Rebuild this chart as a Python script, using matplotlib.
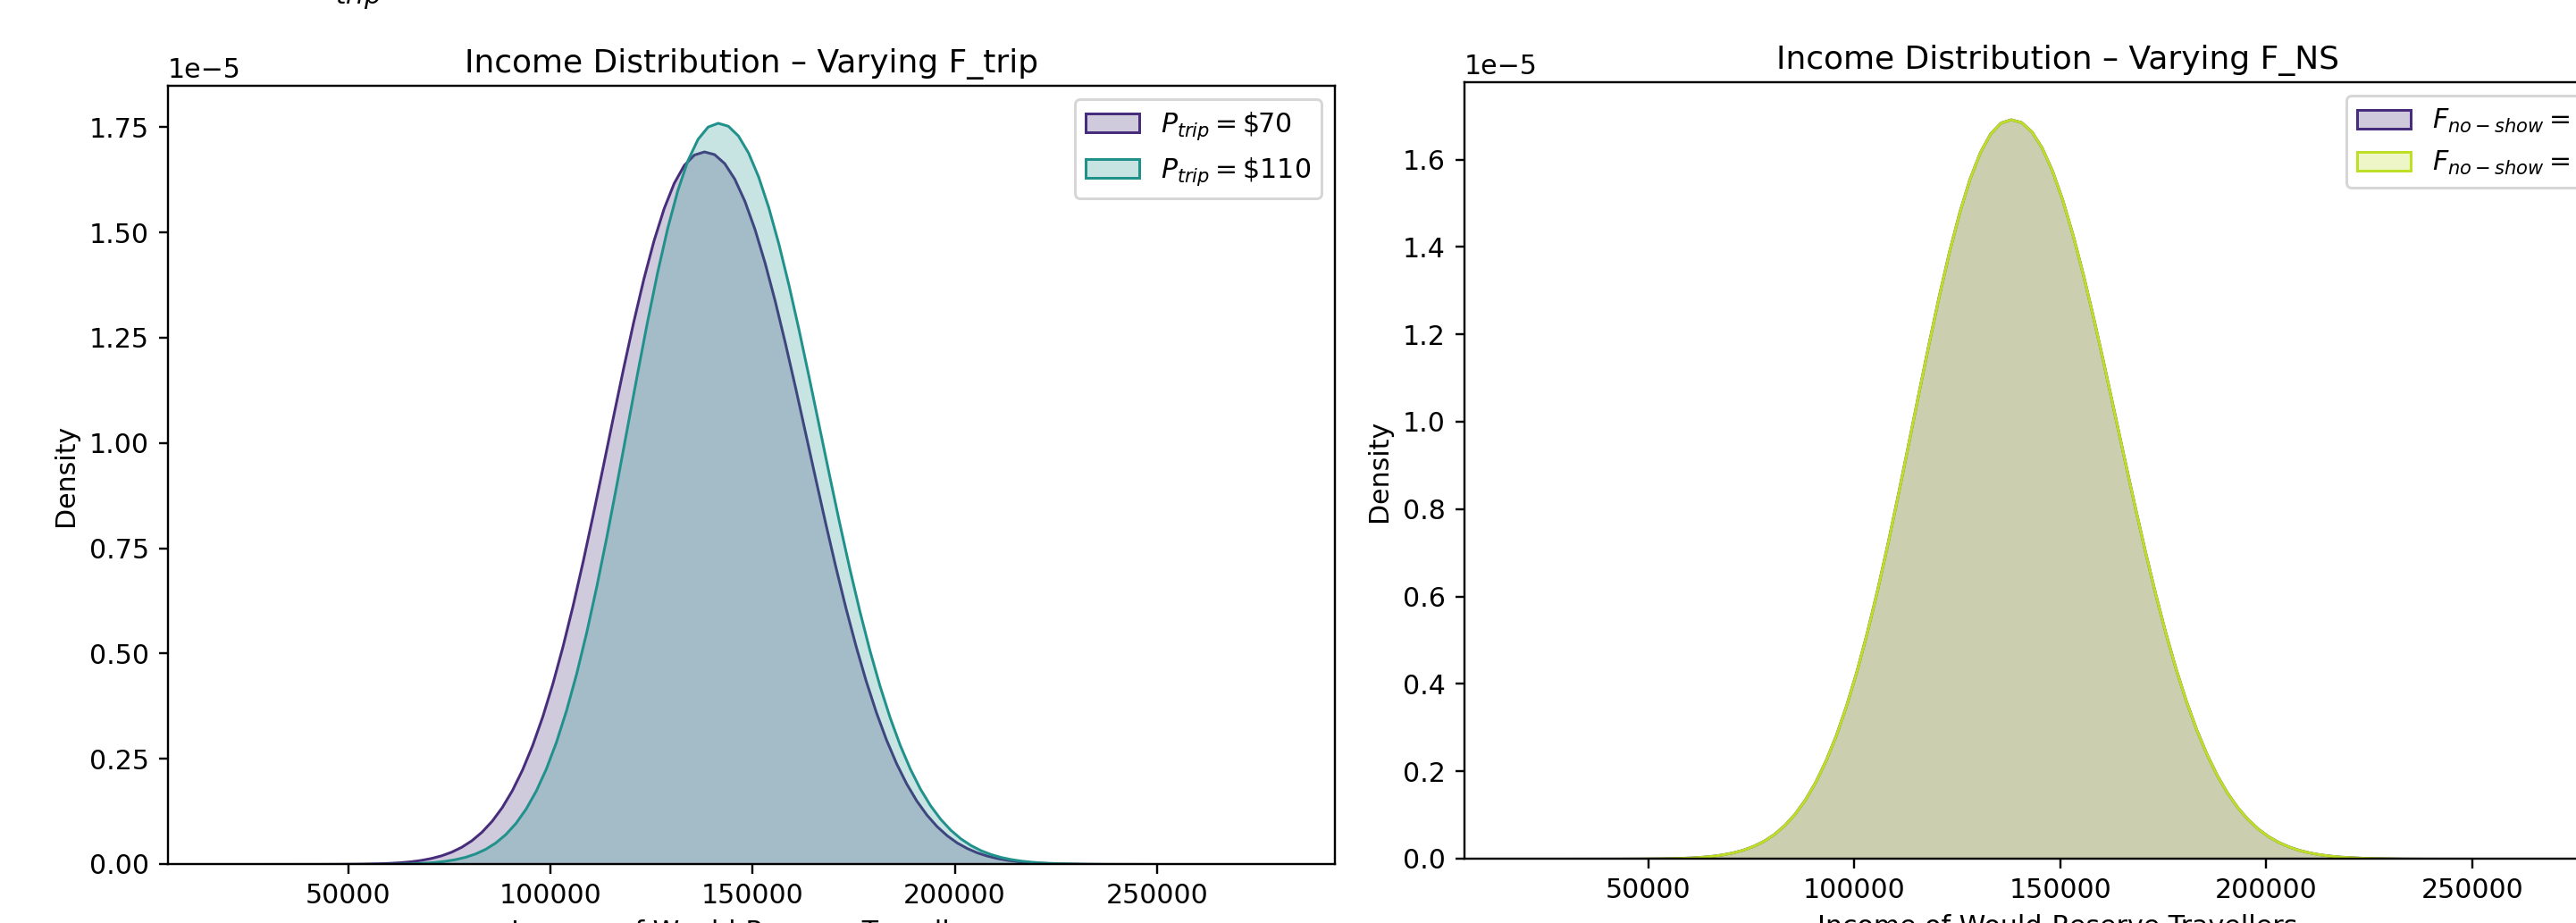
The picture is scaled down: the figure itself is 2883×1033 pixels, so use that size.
import numpy as np
import matplotlib
matplotlib.use("Agg")
import matplotlib.pyplot as plt
from matplotlib.patches import Patch

# ---------------- data (density in units of 1e-5) ----------------
income_70 = [18500, 30000, 43000, 48000, 53000,
             58000, 60500, 63000, 65500, 68000, 70500, 73000, 75500, 78000, 80500,
             83000, 85500, 88000, 90500, 93000, 95500, 98000, 100500, 103000, 105500,
             108000, 110500, 113000, 115500, 118000, 120500, 123000, 125500, 128000, 130500,
             133000, 135500, 138000,
             140500, 143000, 145500, 148000, 150500, 153000, 155500, 158000, 160500, 163000,
             165500, 168000, 170500, 173000, 175500, 178000, 180500, 183000, 185500, 188000,
             190500, 193000, 195500, 198000, 200500, 203000, 205500, 208000, 210500, 213000,
             215500, 218000, 223000, 228000, 233000, 238000, 250000, 260000, 270000, 280000]

dens_ptrip_70 = [0.0, 0.0, 0.0001, 0.0003, 0.0007,
                 0.0018, 0.0028, 0.0043, 0.0065, 0.0097, 0.0143, 0.0206, 0.0293, 0.0410, 0.0565,
                 0.0768, 0.1027, 0.1352, 0.1754, 0.2242, 0.2823, 0.3504, 0.4286, 0.5167, 0.6139,
                 0.7192, 0.8307, 0.9461, 1.0629, 1.1778, 1.2879, 1.3897, 1.4802, 1.5567, 1.6171,
                 1.6599, 1.6846, 1.6920,
                 1.6856, 1.6643, 1.6272, 1.5746, 1.5076, 1.4277, 1.3371, 1.2379, 1.1331, 1.0247,
                 0.9159, 0.8088, 0.7056, 0.6080, 0.5176, 0.4350, 0.3611, 0.2959, 0.2395, 0.1913,
                 0.1508, 0.1174, 0.0902, 0.0684, 0.0511, 0.0378, 0.0275, 0.0198, 0.0140, 0.0098,
                 0.0068, 0.0046, 0.0021, 0.0009, 0.0003, 0.0001, 0.0, 0.0, 0.0, 0.0]

income_110 = [18500, 30000, 45000, 56400,
              61400, 63900, 66400, 68900, 71400, 73900, 76400, 78900, 81400, 83900,
              86400, 88900, 91400, 93900, 96400, 98900, 101400, 103900, 106400, 108900,
              111400, 113900, 116400, 118900, 121400, 123900, 126400, 128900, 131400, 133900,
              136400, 138900, 141400,
              143900, 146400, 148900, 151400, 153900, 156400, 158900, 161400, 163900, 166400,
              168900, 171400, 173900, 176400, 178900, 181400, 183900, 186400, 188900, 191400,
              193900, 196400, 198900, 201400, 203900, 206400, 208900, 211400, 213900, 216400,
              218900, 221400, 226400, 231400, 236400, 241400, 250000, 260000, 270000, 280000]

dens_ptrip_110 = [0.0, 0.0, 0.0, 0.0002,
                  0.0007, 0.0012, 0.0019, 0.0030, 0.0048, 0.0075, 0.0114, 0.0170, 0.0250, 0.0360,
                  0.0511, 0.0712, 0.0977, 0.1316, 0.1742, 0.2268, 0.2904, 0.3657, 0.4528, 0.5516,
                  0.6612, 0.7797, 0.9049, 1.0339, 1.1628, 1.2879, 1.4050, 1.5103, 1.5999, 1.6711,
                  1.7218, 1.7511, 1.7600,
                  1.7530, 1.7298, 1.6894, 1.6323, 1.5595, 1.4730, 1.3751, 1.2685, 1.1559, 1.0405,
                  0.9250, 0.8119, 0.7037, 0.6021, 0.5084, 0.4238, 0.3487, 0.2830, 0.2267, 0.1791,
                  0.1396, 0.1074, 0.0815, 0.0609, 0.0450, 0.0327, 0.0235, 0.0166, 0.0116, 0.0080,
                  0.0054, 0.0036, 0.0015, 0.0006, 0.0002, 0.0001, 0.0, 0.0, 0.0, 0.0]

income_ns = [19000, 30000, 43000, 48000, 53000,
             58000, 60500, 63000, 65500, 68000, 70500, 73000, 75500, 78000, 80500,
             83000, 85500, 88000, 90500, 93000, 95500, 98000, 100500, 103000, 105500,
             108000, 110500, 113000, 115500, 118000, 120500, 123000, 125500, 128000, 130500,
             133000, 135500, 138000,
             140500, 143000, 145500, 148000, 150500, 153000, 155500, 158000, 160500, 163000,
             165500, 168000, 170500, 173000, 175500, 178000, 180500, 183000, 185500, 188000,
             190500, 193000, 195500, 198000, 200500, 203000, 205500, 208000, 210500, 213000,
             215500, 218000, 223000, 228000, 233000, 238000, 250000, 260000, 270000, 280000]

dens_fns_a = [0.0, 0.0, 0.0001, 0.0003, 0.0007,
              0.0018, 0.0028, 0.0043, 0.0065, 0.0097, 0.0143, 0.0206, 0.0293, 0.0410, 0.0565,
              0.0768, 0.1027, 0.1352, 0.1754, 0.2242, 0.2823, 0.3504, 0.4286, 0.5167, 0.6139,
              0.7192, 0.8307, 0.9461, 1.0629, 1.1778, 1.2879, 1.3897, 1.4802, 1.5567, 1.6171,
              1.6599, 1.6846, 1.6920,
              1.6856, 1.6643, 1.6272, 1.5746, 1.5076, 1.4277, 1.3371, 1.2379, 1.1331, 1.0247,
              0.9159, 0.8088, 0.7056, 0.6080, 0.5176, 0.4350, 0.3611, 0.2959, 0.2395, 0.1913,
              0.1508, 0.1174, 0.0902, 0.0684, 0.0511, 0.0378, 0.0275, 0.0198, 0.0140, 0.0098,
              0.0068, 0.0046, 0.0021, 0.0009, 0.0003, 0.0001, 0.0, 0.0, 0.0, 0.0]

dens_fns_b = [0.0, 0.0, 0.0001, 0.0003, 0.0007,
              0.0018, 0.0028, 0.0043, 0.0065, 0.0097, 0.0143, 0.0206, 0.0293, 0.0410, 0.0565,
              0.0768, 0.1027, 0.1352, 0.1754, 0.2242, 0.2823, 0.3504, 0.4286, 0.5167, 0.6139,
              0.7192, 0.8307, 0.9461, 1.0629, 1.1778, 1.2879, 1.3897, 1.4802, 1.5567, 1.6171,
              1.6599, 1.6846, 1.6920,
              1.6856, 1.6643, 1.6272, 1.5746, 1.5076, 1.4277, 1.3371, 1.2379, 1.1331, 1.0247,
              0.9159, 0.8088, 0.7056, 0.6080, 0.5176, 0.4350, 0.3611, 0.2959, 0.2395, 0.1913,
              0.1508, 0.1174, 0.0902, 0.0684, 0.0511, 0.0378, 0.0275, 0.0198, 0.0140, 0.0098,
              0.0068, 0.0046, 0.0021, 0.0009, 0.0003, 0.0001, 0.0, 0.0, 0.0, 0.0]

labels_left = [r"$P_{trip} = \$70$", r"$P_{trip} = \$110$"]
labels_right = [r"$F_{no-show} = \$0$", r"$F_{no-show} = \$50$"]

PURPLE = "#472d7b"
TEAL = "#21918c"
LIME = "#bddf26"

# ---------------- figure ----------------
W, H, DPI = 2883, 1033, 216
fig = plt.figure(figsize=(W / DPI, H / DPI), dpi=DPI)


def ax_rect(x0, x1, ytop, ybot):
    return [x0 / W, (H - ybot) / H, (x1 - x0) / W, (ybot - ytop) / H]


def kde_fill(ax, x, y, color):
    yy = np.asarray(y) * 1e-5
    ax.fill_between(x, 0, yy, facecolor=matplotlib.colors.to_rgba(color, 0.25),
                    edgecolor=color, linewidth=1.0)


ax1 = fig.add_axes(ax_rect(188, 1494, 96, 967))
kde_fill(ax1, income_70, dens_ptrip_70, PURPLE)
kde_fill(ax1, income_110, dens_ptrip_110, TEAL)
ax1.set_xlim(5440, 294000)
ax1.set_ylim(0, 1.848e-5)
ax1.set_title("Income Distribution – Varying F_trip", pad=5)
ax1.set_xlabel("Income of Would-Reserve Travellers")
ax1.set_ylabel("Density")
ax1.legend(handles=[Patch(facecolor=matplotlib.colors.to_rgba(c, 0.25), edgecolor=c)
                    for c in (PURPLE, TEAL)], labels=labels_left, loc="upper right")

ax2 = fig.add_axes(ax_rect(1639, 2967, 92, 961))
kde_fill(ax2, income_ns, dens_fns_a, PURPLE)
kde_fill(ax2, income_ns, dens_fns_b, LIME)
ax2.set_xlim(5350, 293400)
ax2.set_ylim(0, 1.777e-5)
ax2.set_title("Income Distribution – Varying F_NS", pad=5)
ax2.set_xlabel("Income of Would-Reserve Travellers")
ax2.set_ylabel("Density")
ax2.legend(handles=[Patch(facecolor=matplotlib.colors.to_rgba(c, 0.25), edgecolor=c)
                    for c in (PURPLE, LIME)], labels=labels_right, loc="upper right")

# fragment of a heading above the visible area
fig.text(350 / W, 1 + 2 / H, r"$P_{trip}$", fontsize=14, ha="left", va="baseline")

fig.savefig("out.png", dpi=DPI)
